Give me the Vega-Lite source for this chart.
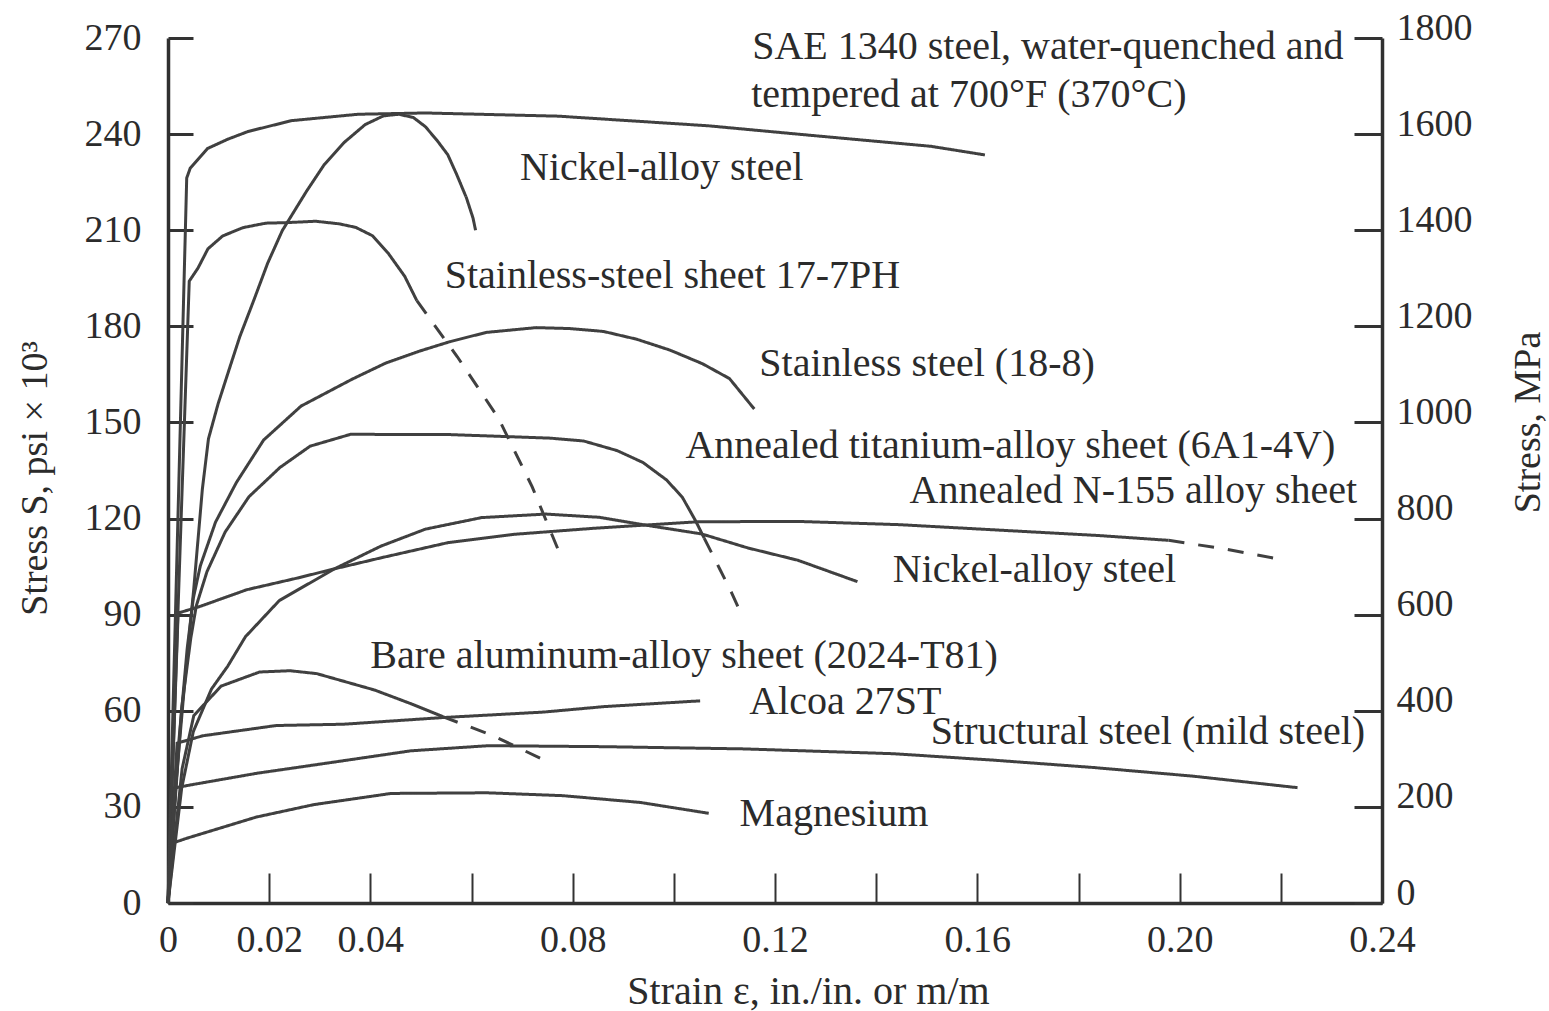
{
  "$schema": "https://vega.github.io/schema/vega-lite/v6.json",
  "width": 1214,
  "height": 865,
  "autosize": {"type": "none"},
  "padding": {"left": 168, "top": 38, "right": 167, "bottom": 108},
  "background": "white",
  "config": {
    "view": {"stroke": null},
    "axis": {
      "grid": false,
      "domainColor": "#303030",
      "tickColor": "#333333",
      "labelColor": "#2b2b2b",
      "titleColor": "#2b2b2b",
      "labelFont": "Liberation Serif",
      "titleFont": "Liberation Serif",
      "labelFontSize": 38,
      "titleFontSize": 38,
      "titleFontWeight": "normal",
      "domainWidth": 3.5,
      "tickWidth": 2.5,
      "labelOverlap": false,
      "labelFlush": false
    }
  },
  "datasets": {
    "curves": [
      {"curve": "SAE 1340", "part": "measured", "i": 0, "strain": 0, "ksi": 0},
      {"curve": "SAE 1340", "part": "measured", "i": 1, "strain": 0.0037, "ksi": 226.3},
      {"curve": "SAE 1340", "part": "measured", "i": 2, "strain": 0.0044, "ksi": 229.4},
      {"curve": "SAE 1340", "part": "measured", "i": 3, "strain": 0.0078, "ksi": 235.5},
      {"curve": "SAE 1340", "part": "measured", "i": 4, "strain": 0.0118, "ksi": 238.4},
      {"curve": "SAE 1340", "part": "measured", "i": 5, "strain": 0.0158, "ksi": 240.8},
      {"curve": "SAE 1340", "part": "measured", "i": 6, "strain": 0.0244, "ksi": 244.2},
      {"curve": "SAE 1340", "part": "measured", "i": 7, "strain": 0.0376, "ksi": 246.2},
      {"curve": "SAE 1340", "part": "measured", "i": 8, "strain": 0.0509, "ksi": 246.6},
      {"curve": "SAE 1340", "part": "measured", "i": 9, "strain": 0.0772, "ksi": 245.6},
      {"curve": "SAE 1340", "part": "measured", "i": 10, "strain": 0.1068, "ksi": 242.6},
      {"curve": "SAE 1340", "part": "measured", "i": 11, "strain": 0.1272, "ksi": 239.6},
      {"curve": "SAE 1340", "part": "measured", "i": 12, "strain": 0.1508, "ksi": 236.2},
      {"curve": "SAE 1340", "part": "measured", "i": 13, "strain": 0.1615, "ksi": 233.5},

      {"curve": "Nickel upper", "part": "measured", "i": 0, "strain": 0, "ksi": 0},
      {"curve": "Nickel upper", "part": "measured", "i": 1, "strain": 0.0015, "ksi": 35.9},
      {"curve": "Nickel upper", "part": "measured", "i": 2, "strain": 0.0032, "ksi": 67.0},
      {"curve": "Nickel upper", "part": "measured", "i": 3, "strain": 0.0051, "ksi": 98.2},
      {"curve": "Nickel upper", "part": "measured", "i": 4, "strain": 0.0068, "ksi": 129.3},
      {"curve": "Nickel upper", "part": "measured", "i": 5, "strain": 0.0080, "ksi": 144.9},
      {"curve": "Nickel upper", "part": "measured", "i": 6, "strain": 0.0099, "ksi": 155.8},
      {"curve": "Nickel upper", "part": "measured", "i": 7, "strain": 0.0121, "ksi": 166.6},
      {"curve": "Nickel upper", "part": "measured", "i": 8, "strain": 0.0142, "ksi": 176.8},
      {"curve": "Nickel upper", "part": "measured", "i": 9, "strain": 0.0170, "ksi": 188.3},
      {"curve": "Nickel upper", "part": "measured", "i": 10, "strain": 0.0197, "ksi": 199.7},
      {"curve": "Nickel upper", "part": "measured", "i": 11, "strain": 0.0226, "ksi": 209.9},
      {"curve": "Nickel upper", "part": "measured", "i": 12, "strain": 0.0274, "ksi": 222.2},
      {"curve": "Nickel upper", "part": "measured", "i": 13, "strain": 0.0309, "ksi": 230.5},
      {"curve": "Nickel upper", "part": "measured", "i": 14, "strain": 0.0349, "ksi": 237.5},
      {"curve": "Nickel upper", "part": "measured", "i": 15, "strain": 0.0390, "ksi": 243.0},
      {"curve": "Nickel upper", "part": "measured", "i": 16, "strain": 0.0426, "ksi": 245.7},
      {"curve": "Nickel upper", "part": "measured", "i": 17, "strain": 0.0456, "ksi": 246.2},
      {"curve": "Nickel upper", "part": "measured", "i": 18, "strain": 0.0485, "ksi": 245.2},
      {"curve": "Nickel upper", "part": "measured", "i": 19, "strain": 0.0509, "ksi": 242.3},
      {"curve": "Nickel upper", "part": "measured", "i": 20, "strain": 0.0533, "ksi": 237.8},
      {"curve": "Nickel upper", "part": "measured", "i": 21, "strain": 0.0553, "ksi": 233.6},
      {"curve": "Nickel upper", "part": "measured", "i": 22, "strain": 0.0571, "ksi": 227.3},
      {"curve": "Nickel upper", "part": "measured", "i": 23, "strain": 0.0590, "ksi": 220.1},
      {"curve": "Nickel upper", "part": "measured", "i": 24, "strain": 0.0603, "ksi": 213.8},
      {"curve": "Nickel upper", "part": "measured", "i": 25, "strain": 0.0608, "ksi": 210.0},

      {"curve": "17-7PH", "part": "measured", "i": 0, "strain": 0, "ksi": 0},
      {"curve": "17-7PH", "part": "measured", "i": 1, "strain": 0.0042, "ksi": 194.1},
      {"curve": "17-7PH", "part": "measured", "i": 2, "strain": 0.0059, "ksi": 198.1},
      {"curve": "17-7PH", "part": "measured", "i": 3, "strain": 0.0079, "ksi": 204.2},
      {"curve": "17-7PH", "part": "measured", "i": 4, "strain": 0.0108, "ksi": 208.2},
      {"curve": "17-7PH", "part": "measured", "i": 5, "strain": 0.0148, "ksi": 210.8},
      {"curve": "17-7PH", "part": "measured", "i": 6, "strain": 0.0193, "ksi": 212.2},
      {"curve": "17-7PH", "part": "measured", "i": 7, "strain": 0.0239, "ksi": 212.4},
      {"curve": "17-7PH", "part": "measured", "i": 8, "strain": 0.0292, "ksi": 212.8},
      {"curve": "17-7PH", "part": "measured", "i": 9, "strain": 0.0338, "ksi": 212.0},
      {"curve": "17-7PH", "part": "measured", "i": 10, "strain": 0.0371, "ksi": 210.9},
      {"curve": "17-7PH", "part": "measured", "i": 11, "strain": 0.0404, "ksi": 208.3},
      {"curve": "17-7PH", "part": "measured", "i": 12, "strain": 0.0435, "ksi": 202.9},
      {"curve": "17-7PH", "part": "measured", "i": 13, "strain": 0.0468, "ksi": 195.6},
      {"curve": "17-7PH", "part": "measured", "i": 14, "strain": 0.0492, "ksi": 188.0},
      {"curve": "17-7PH", "part": "extrapolated", "i": 15, "strain": 0.0492, "ksi": 188.0},
      {"curve": "17-7PH", "part": "extrapolated", "i": 16, "strain": 0.0572, "ksi": 170.5},
      {"curve": "17-7PH", "part": "extrapolated", "i": 17, "strain": 0.0653, "ksi": 151.4},
      {"curve": "17-7PH", "part": "extrapolated", "i": 18, "strain": 0.0720, "ksi": 129.9},
      {"curve": "17-7PH", "part": "extrapolated", "i": 19, "strain": 0.0771, "ksi": 110.4},

      {"curve": "18-8", "part": "measured", "i": 0, "strain": 0, "ksi": 0},
      {"curve": "18-8", "part": "measured", "i": 1, "strain": 0.0022, "ksi": 51.4},
      {"curve": "18-8", "part": "measured", "i": 2, "strain": 0.0038, "ksi": 79.5},
      {"curve": "18-8", "part": "measured", "i": 3, "strain": 0.0050, "ksi": 95.1},
      {"curve": "18-8", "part": "measured", "i": 4, "strain": 0.0064, "ksi": 105.3},
      {"curve": "18-8", "part": "measured", "i": 5, "strain": 0.0094, "ksi": 118.9},
      {"curve": "18-8", "part": "measured", "i": 6, "strain": 0.0135, "ksi": 131.2},
      {"curve": "18-8", "part": "measured", "i": 7, "strain": 0.0189, "ksi": 144.5},
      {"curve": "18-8", "part": "measured", "i": 8, "strain": 0.0263, "ksi": 155.1},
      {"curve": "18-8", "part": "measured", "i": 9, "strain": 0.0364, "ksi": 163.5},
      {"curve": "18-8", "part": "measured", "i": 10, "strain": 0.0430, "ksi": 168.5},
      {"curve": "18-8", "part": "measured", "i": 11, "strain": 0.0498, "ksi": 172.3},
      {"curve": "18-8", "part": "measured", "i": 12, "strain": 0.0557, "ksi": 175.2},
      {"curve": "18-8", "part": "measured", "i": 13, "strain": 0.0629, "ksi": 178.1},
      {"curve": "18-8", "part": "measured", "i": 14, "strain": 0.0728, "ksi": 179.6},
      {"curve": "18-8", "part": "measured", "i": 15, "strain": 0.0795, "ksi": 179.3},
      {"curve": "18-8", "part": "measured", "i": 16, "strain": 0.0861, "ksi": 178.4},
      {"curve": "18-8", "part": "measured", "i": 17, "strain": 0.0926, "ksi": 176.0},
      {"curve": "18-8", "part": "measured", "i": 18, "strain": 0.0992, "ksi": 172.6},
      {"curve": "18-8", "part": "measured", "i": 19, "strain": 0.1057, "ksi": 168.3},
      {"curve": "18-8", "part": "measured", "i": 20, "strain": 0.1110, "ksi": 163.7},
      {"curve": "18-8", "part": "measured", "i": 21, "strain": 0.1159, "ksi": 154.2},

      {"curve": "6Al-4V", "part": "measured", "i": 0, "strain": 0, "ksi": 0},
      {"curve": "6Al-4V", "part": "measured", "i": 1, "strain": 0.0027, "ksi": 60.8},
      {"curve": "6Al-4V", "part": "measured", "i": 2, "strain": 0.0045, "ksi": 82.6},
      {"curve": "6Al-4V", "part": "measured", "i": 3, "strain": 0.0056, "ksi": 92.8},
      {"curve": "6Al-4V", "part": "measured", "i": 4, "strain": 0.0077, "ksi": 103.4},
      {"curve": "6Al-4V", "part": "measured", "i": 5, "strain": 0.0113, "ksi": 115.8},
      {"curve": "6Al-4V", "part": "measured", "i": 6, "strain": 0.0160, "ksi": 126.8},
      {"curve": "6Al-4V", "part": "measured", "i": 7, "strain": 0.0221, "ksi": 135.9},
      {"curve": "6Al-4V", "part": "measured", "i": 8, "strain": 0.0281, "ksi": 142.6},
      {"curve": "6Al-4V", "part": "measured", "i": 9, "strain": 0.0361, "ksi": 146.3},
      {"curve": "6Al-4V", "part": "measured", "i": 10, "strain": 0.0559, "ksi": 146.2},
      {"curve": "6Al-4V", "part": "measured", "i": 11, "strain": 0.0756, "ksi": 145.1},
      {"curve": "6Al-4V", "part": "measured", "i": 12, "strain": 0.0822, "ksi": 144.2},
      {"curve": "6Al-4V", "part": "measured", "i": 13, "strain": 0.0888, "ksi": 141.2},
      {"curve": "6Al-4V", "part": "measured", "i": 14, "strain": 0.0939, "ksi": 137.5},
      {"curve": "6Al-4V", "part": "measured", "i": 15, "strain": 0.0986, "ksi": 132.0},
      {"curve": "6Al-4V", "part": "measured", "i": 16, "strain": 0.1017, "ksi": 126.6},
      {"curve": "6Al-4V", "part": "measured", "i": 17, "strain": 0.1043, "ksi": 119.3},
      {"curve": "6Al-4V", "part": "measured", "i": 18, "strain": 0.1060, "ksi": 113.9},
      {"curve": "6Al-4V", "part": "extrapolated", "i": 19, "strain": 0.1060, "ksi": 113.9},
      {"curve": "6Al-4V", "part": "extrapolated", "i": 20, "strain": 0.1090, "ksi": 104.5},
      {"curve": "6Al-4V", "part": "extrapolated", "i": 21, "strain": 0.1115, "ksi": 96.6},
      {"curve": "6Al-4V", "part": "extrapolated", "i": 22, "strain": 0.1136, "ksi": 89.3},

      {"curve": "N-155", "part": "measured", "i": 0, "strain": 0, "ksi": 0},
      {"curve": "N-155", "part": "measured", "i": 1, "strain": 0.0020, "ksi": 90.5},
      {"curve": "N-155", "part": "measured", "i": 2, "strain": 0.0062, "ksi": 92.5},
      {"curve": "N-155", "part": "measured", "i": 3, "strain": 0.0156, "ksi": 97.8},
      {"curve": "N-155", "part": "measured", "i": 4, "strain": 0.0255, "ksi": 101.4},
      {"curve": "N-155", "part": "measured", "i": 5, "strain": 0.0329, "ksi": 104.3},
      {"curve": "N-155", "part": "measured", "i": 6, "strain": 0.0420, "ksi": 107.7},
      {"curve": "N-155", "part": "measured", "i": 7, "strain": 0.0554, "ksi": 112.5},
      {"curve": "N-155", "part": "measured", "i": 8, "strain": 0.0686, "ksi": 115.1},
      {"curve": "N-155", "part": "measured", "i": 9, "strain": 0.0845, "ksi": 117.0},
      {"curve": "N-155", "part": "measured", "i": 10, "strain": 0.1049, "ksi": 119.0},
      {"curve": "N-155", "part": "measured", "i": 11, "strain": 0.1247, "ksi": 119.1},
      {"curve": "N-155", "part": "measured", "i": 12, "strain": 0.1445, "ksi": 118.1},
      {"curve": "N-155", "part": "measured", "i": 13, "strain": 0.1642, "ksi": 116.4},
      {"curve": "N-155", "part": "measured", "i": 14, "strain": 0.1840, "ksi": 114.7},
      {"curve": "N-155", "part": "measured", "i": 15, "strain": 0.1978, "ksi": 113.2},
      {"curve": "N-155", "part": "extrapolated", "i": 16, "strain": 0.1978, "ksi": 113.2},
      {"curve": "N-155", "part": "extrapolated", "i": 17, "strain": 0.2086, "ksi": 110.6},
      {"curve": "N-155", "part": "extrapolated", "i": 18, "strain": 0.2195, "ksi": 107.4},

      {"curve": "Nickel lower", "part": "measured", "i": 0, "strain": 0, "ksi": 0},
      {"curve": "Nickel lower", "part": "measured", "i": 1, "strain": 0.0027, "ksi": 35.8},
      {"curve": "Nickel lower", "part": "measured", "i": 2, "strain": 0.0050, "ksi": 53.5},
      {"curve": "Nickel lower", "part": "measured", "i": 3, "strain": 0.0086, "ksi": 66.8},
      {"curve": "Nickel lower", "part": "measured", "i": 4, "strain": 0.0118, "ksi": 73.9},
      {"curve": "Nickel lower", "part": "measured", "i": 5, "strain": 0.0153, "ksi": 83.1},
      {"curve": "Nickel lower", "part": "measured", "i": 6, "strain": 0.0220, "ksi": 94.4},
      {"curve": "Nickel lower", "part": "measured", "i": 7, "strain": 0.0329, "ksi": 104.3},
      {"curve": "Nickel lower", "part": "measured", "i": 8, "strain": 0.0421, "ksi": 111.4},
      {"curve": "Nickel lower", "part": "measured", "i": 9, "strain": 0.0509, "ksi": 116.7},
      {"curve": "Nickel lower", "part": "measured", "i": 10, "strain": 0.0620, "ksi": 120.3},
      {"curve": "Nickel lower", "part": "measured", "i": 11, "strain": 0.0747, "ksi": 121.4},
      {"curve": "Nickel lower", "part": "measured", "i": 12, "strain": 0.0852, "ksi": 120.4},
      {"curve": "Nickel lower", "part": "measured", "i": 13, "strain": 0.0950, "ksi": 117.8},
      {"curve": "Nickel lower", "part": "measured", "i": 14, "strain": 0.1055, "ksi": 115.2},
      {"curve": "Nickel lower", "part": "measured", "i": 15, "strain": 0.1147, "ksi": 110.8},
      {"curve": "Nickel lower", "part": "measured", "i": 16, "strain": 0.1245, "ksi": 107.0},
      {"curve": "Nickel lower", "part": "measured", "i": 17, "strain": 0.1363, "ksi": 100.3},

      {"curve": "2024-T81", "part": "measured", "i": 0, "strain": 0, "ksi": 0},
      {"curve": "2024-T81", "part": "measured", "i": 1, "strain": 0.0028, "ksi": 42.0},
      {"curve": "2024-T81", "part": "measured", "i": 2, "strain": 0.0051, "ksi": 58.5},
      {"curve": "2024-T81", "part": "measured", "i": 3, "strain": 0.0105, "ksi": 67.7},
      {"curve": "2024-T81", "part": "measured", "i": 4, "strain": 0.0181, "ksi": 72.1},
      {"curve": "2024-T81", "part": "measured", "i": 5, "strain": 0.0241, "ksi": 72.5},
      {"curve": "2024-T81", "part": "measured", "i": 6, "strain": 0.0294, "ksi": 71.6},
      {"curve": "2024-T81", "part": "measured", "i": 7, "strain": 0.0408, "ksi": 66.5},
      {"curve": "2024-T81", "part": "measured", "i": 8, "strain": 0.0482, "ksi": 62.1},
      {"curve": "2024-T81", "part": "measured", "i": 9, "strain": 0.0543, "ksi": 58.2},
      {"curve": "2024-T81", "part": "extrapolated", "i": 10, "strain": 0.0543, "ksi": 58.2},
      {"curve": "2024-T81", "part": "extrapolated", "i": 11, "strain": 0.0643, "ksi": 52.2},
      {"curve": "2024-T81", "part": "extrapolated", "i": 12, "strain": 0.0753, "ksi": 43.9},

      {"curve": "Alcoa 27ST", "part": "measured", "i": 0, "strain": 0, "ksi": 0},
      {"curve": "Alcoa 27ST", "part": "measured", "i": 1, "strain": 0.0018, "ksi": 49.9},
      {"curve": "Alcoa 27ST", "part": "measured", "i": 2, "strain": 0.0069, "ksi": 52.2},
      {"curve": "Alcoa 27ST", "part": "measured", "i": 3, "strain": 0.0214, "ksi": 55.4},
      {"curve": "Alcoa 27ST", "part": "measured", "i": 4, "strain": 0.0347, "ksi": 55.8},
      {"curve": "Alcoa 27ST", "part": "measured", "i": 5, "strain": 0.0545, "ksi": 57.9},
      {"curve": "Alcoa 27ST", "part": "measured", "i": 6, "strain": 0.0743, "ksi": 59.6},
      {"curve": "Alcoa 27ST", "part": "measured", "i": 7, "strain": 0.0862, "ksi": 61.3},
      {"curve": "Alcoa 27ST", "part": "measured", "i": 8, "strain": 0.1052, "ksi": 63.1},

      {"curve": "Structural", "part": "measured", "i": 0, "strain": 0, "ksi": 0},
      {"curve": "Structural", "part": "measured", "i": 1, "strain": 0.0013, "ksi": 35.9},
      {"curve": "Structural", "part": "measured", "i": 2, "strain": 0.0039, "ksi": 36.7},
      {"curve": "Structural", "part": "measured", "i": 3, "strain": 0.0176, "ksi": 40.5},
      {"curve": "Structural", "part": "measured", "i": 4, "strain": 0.0329, "ksi": 44.0},
      {"curve": "Structural", "part": "measured", "i": 5, "strain": 0.0480, "ksi": 47.5},
      {"curve": "Structural", "part": "measured", "i": 6, "strain": 0.0633, "ksi": 49.1},
      {"curve": "Structural", "part": "measured", "i": 7, "strain": 0.0860, "ksi": 48.8},
      {"curve": "Structural", "part": "measured", "i": 8, "strain": 0.1139, "ksi": 48.1},
      {"curve": "Structural", "part": "measured", "i": 9, "strain": 0.1434, "ksi": 46.6},
      {"curve": "Structural", "part": "measured", "i": 10, "strain": 0.1631, "ksi": 44.6},
      {"curve": "Structural", "part": "measured", "i": 11, "strain": 0.1829, "ksi": 42.3},
      {"curve": "Structural", "part": "measured", "i": 12, "strain": 0.2026, "ksi": 39.6},
      {"curve": "Structural", "part": "measured", "i": 13, "strain": 0.2233, "ksi": 36.0},

      {"curve": "Magnesium", "part": "measured", "i": 0, "strain": 0, "ksi": 0},
      {"curve": "Magnesium", "part": "measured", "i": 1, "strain": 0.0009, "ksi": 18.7},
      {"curve": "Magnesium", "part": "measured", "i": 2, "strain": 0.0037, "ksi": 20.2},
      {"curve": "Magnesium", "part": "measured", "i": 3, "strain": 0.0174, "ksi": 26.8},
      {"curve": "Magnesium", "part": "measured", "i": 4, "strain": 0.0288, "ksi": 30.7},
      {"curve": "Magnesium", "part": "measured", "i": 5, "strain": 0.0441, "ksi": 34.2},
      {"curve": "Magnesium", "part": "measured", "i": 6, "strain": 0.0631, "ksi": 34.4},
      {"curve": "Magnesium", "part": "measured", "i": 7, "strain": 0.0781, "ksi": 33.5},
      {"curve": "Magnesium", "part": "measured", "i": 8, "strain": 0.0933, "ksi": 31.4},
      {"curve": "Magnesium", "part": "measured", "i": 9, "strain": 0.1069, "ksi": 28.0}
    ],
    "labels": [
      {"label": "SAE 1340 steel, water-quenched and", "strain": 0.1155, "ksi": 267.2},
      {"label": "tempered at 700°F (370°C)", "strain": 0.1153, "ksi": 252.2},
      {"label": "Nickel-alloy steel", "strain": 0.0696, "ksi": 229.3},
      {"label": "Stainless-steel sheet 17-7PH", "strain": 0.0547, "ksi": 195.6},
      {"label": "Stainless steel (18-8)", "strain": 0.1169, "ksi": 168.2},
      {"label": "Annealed titanium-alloy sheet (6A1-4V)", "strain": 0.1023, "ksi": 142.8},
      {"label": "Annealed N-155 alloy sheet", "strain": 0.1466, "ksi": 128.6},
      {"label": "Nickel-alloy steel", "strain": 0.1433, "ksi": 103.8},
      {"label": "Bare aluminum-alloy sheet (2024-T81)", "strain": 0.0400, "ksi": 77.2},
      {"label": "Alcoa 27ST", "strain": 0.1149, "ksi": 62.7},
      {"label": "Structural steel (mild steel)", "strain": 0.1508, "ksi": 53.5},
      {"label": "Magnesium", "strain": 0.1130, "ksi": 27.8}
    ],
    "mpa": [{"mpa": 0}, {"mpa": 1800}]
  },
  "layer": [
    {
      "layer": [
        {
          "data": {"name": "curves"},
          "mark": {"type": "line", "color": "#404040", "strokeWidth": 3, "strokeCap": "butt"},
          "encoding": {
            "x": {
              "field": "strain", "type": "quantitative",
              "scale": {"domain": [0, 0.24], "nice": false, "zero": false},
              "axis": {
                "values": [0, 0.02, 0.04, 0.06, 0.08, 0.1, 0.12, 0.14, 0.16, 0.18, 0.2, 0.22, 0.24],
                "labelExpr": "datum.value == 0 ? '0' : (indexof([2,4,8,12,16,20,24], round(datum.value*100)) >= 0 ? format(datum.value, '.2f') : '')",
                "tickSize": -30,
                "tickWidth": 2,
                "labelPadding": 48,
                "title": "Strain ε, in./in. or m/m",
                "titleFontSize": 40,
                "titleX": 640,
                "titleY": 88,
                "titleAlign": "center",
                "titleBaseline": "middle"
              }
            },
            "y": {
              "field": "ksi", "type": "quantitative",
              "scale": {"domain": [0, 270], "nice": false, "zero": false},
              "axis": {
                "orient": "left",
                "values": [0, 30, 60, 90, 120, 150, 180, 210, 240, 270],
                "tickSize": -25,
                "tickWidth": 3,
                "labelPadding": 52,
                "title": "Stress S, psi × 10³",
                "titleAngle": 270,
                "titleX": -133,
                "titleY": 440,
                "titleAlign": "center",
                "titleBaseline": "middle"
              }
            },
            "detail": {"field": "curve"},
            "order": {"field": "i", "type": "quantitative"},
            "strokeDash": {
              "field": "part", "type": "nominal",
              "scale": {"domain": ["measured", "extrapolated"], "range": [[1, 0], [16, 14]]},
              "legend": null
            }
          }
        },
        {
          "data": {"name": "labels"},
          "mark": {"type": "text", "align": "left", "baseline": "middle", "font": "Liberation Serif", "fontSize": 40, "color": "#2b2b2b"},
          "encoding": {
            "x": {"field": "strain", "type": "quantitative"},
            "y": {"field": "ksi", "type": "quantitative"},
            "text": {"field": "label"}
          }
        }
      ]
    },
    {
      "data": {"name": "mpa"},
      "mark": {"type": "point", "opacity": 0},
      "encoding": {
        "y": {
          "field": "mpa", "type": "quantitative",
          "scale": {"domain": [0, 1800], "nice": false, "zero": false},
          "axis": {
            "orient": "right",
            "values": [0, 200, 400, 600, 800, 1000, 1200, 1400, 1600, 1800],
            "format": "d",
            "tickSize": -28,
            "tickWidth": 3,
            "labelPadding": 42,
            "labelOffset": -10,
            "title": "Stress, MPa",
            "titleAngle": 270,
            "titleX": 146,
            "titleY": 384,
            "titleAlign": "center",
            "titleBaseline": "middle"
          }
        }
      }
    }
  ],
  "resolve": {"scale": {"y": "independent"}}
}
